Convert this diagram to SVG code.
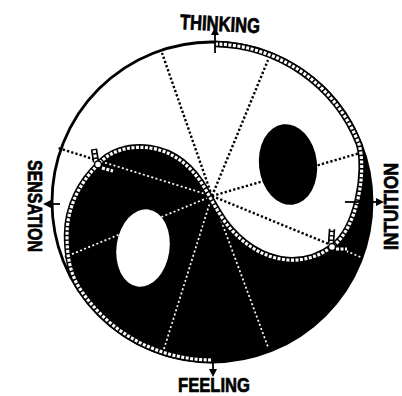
<svg xmlns="http://www.w3.org/2000/svg" width="402" height="396" viewBox="0 0 402 396">
<style>
.lbl{font-family:"Liberation Sans",Arial,sans-serif;font-weight:bold;font-size:21px;fill:#000;stroke:#000;stroke-width:0.7}
.dotB{stroke:#000;stroke-width:2.4;stroke-dasharray:2.3 2.1;fill:none}
.dotW{stroke:#fff;stroke-width:1.7;stroke-dasharray:2 2.4;fill:none}
.bandO{fill:none;stroke:#000;stroke-width:6.5}
.bandI{fill:none;stroke:#fff;stroke-width:3.2;stroke-dasharray:3 1.5}
.arr{stroke:#000;stroke-width:1.8;fill:none;marker-end:url(#ah)}
</style>
<defs>
<marker id="ah" markerUnits="userSpaceOnUse" markerWidth="9" markerHeight="9" refX="1" refY="4.5" orient="auto"><path d="M0,0.5 L8,4.5 L0,8.5 Z" fill="#000"/></marker>
<clipPath id="clipBlack"><path d="M333,246 C320,256 305,261 288,260 C262,258 240,242 225,222 C218,212 213,203 207,192 C196,172 178,152 150,148 C128,145 108,152 98,165 C82,180 67,205 67,235 C67,255 69.7,272.9 79.5,288 L77.8,289.1 A160,160 0 0 0 360.9,143.4 L359,144.1 C367,172 357,228 333,246 Z"/></clipPath>
</defs>
<rect width="402" height="396" fill="#fff"/>
<g id="disc">
<circle cx="212" cy="202" r="160" fill="#fff"/>
</g>
<g id="spokes-black">
<path class="dotB" d="M212,196 L162,53 M212,196 L268,60 M212,196 L58,148 M212,196 L360,153 M212,196 L363,258 M212,196 L65,257 M212,196 L163,352 M212,196 L268,347"/>
</g>
<g id="yin">
<path fill="#000" d="M333,246 C320,256 305,261 288,260 C262,258 240,242 225,222 C218,212 213,203 207,192 C196,172 178,152 150,148 C128,145 108,152 98,165 C82,180 67,205 67,235 C67,255 69.7,272.9 79.5,288 L77.8,289.1 A160,160 0 0 0 360.9,143.4 L359,144.1 C367,172 357,228 333,246 Z"/>
</g>
<g id="spokes-white" clip-path="url(#clipBlack)">
<path class="dotW" d="M212,196 L162,53 M212,196 L268,60 M212,196 L58,148 M212,196 L360,153 M212,196 L363,258 M212,196 L65,257 M212,196 L163,352 M212,196 L268,347"/>
</g>
<g id="eye-black">
<ellipse cx="288" cy="164.5" rx="29" ry="40.5" transform="rotate(-7 288 164.5)" fill="#000"/>
</g>
<g id="eye-white">
<ellipse cx="143" cy="248" rx="26.5" ry="39" transform="rotate(8 143 248)" fill="#fff"/>
</g>
<g id="rim">
<circle cx="212" cy="202" r="160" fill="none" stroke="#000" stroke-width="2.8"/>
</g>
<g id="band">
<path class="bandO" d="M215,44 A158,158 0 0 1 359,144.1 C367,172 357,228 333,246 C320,256 305,261 288,260 C262,258 240,242 225,222 C218,212 213,203 207,192 C196,172 178,152 150,148 C128,145 108,152 98,165 C82,180 67,205 67,235 C67,255 69.7,272.9 79.5,288 A158,158 0 0 0 213,360"/>
<path class="bandI" d="M215,44 A158,158 0 0 1 359,144.1 C367,172 357,228 333,246 C320,256 305,261 288,260 C262,258 240,242 225,222 C218,212 213,203 207,192 C196,172 178,152 150,148 C128,145 108,152 98,165 C82,180 67,205 67,235 C67,255 69.7,272.9 79.5,288 A158,158 0 0 0 213,360"/>
<path class="bandO" d="M96,162 L94,149 M102,168 L113,171 M331,244 L332,229 M336,249 L347,249"/>
<path class="bandI" d="M96,162 L94,149 M102,168 L113,171 M331,244 L332,229 M336,249 L347,249"/>
<circle cx="98" cy="164.5" r="3.5" fill="#fff" stroke="#000" stroke-width="1.5"/>
<circle cx="332" cy="247" r="3.5" fill="#fff" stroke="#000" stroke-width="1.5"/>
</g>
<g id="connectors">
<path class="arr" d="M215,53 L215,34"/>
<path class="arr" d="M213,358 L213,370"/>
<path class="arr" d="M60,204 L50,204"/>
<path class="arr" d="M345,202 L377,202"/>
</g>
<g id="thinking"><text class="lbl" x="220" y="31" text-anchor="middle" textLength="80" lengthAdjust="spacingAndGlyphs" transform="rotate(3 220 24)">THINKING</text></g>
<g id="feeling"><text class="lbl" x="214" y="392" text-anchor="middle" textLength="72" lengthAdjust="spacingAndGlyphs">FEELING</text></g>
<g id="sensation"><text class="lbl" x="0" y="0" text-anchor="middle" textLength="92" lengthAdjust="spacingAndGlyphs" transform="translate(28 206) rotate(90)">SENSATION</text></g>
<g id="intuition"><text class="lbl" x="0" y="0" text-anchor="middle" textLength="87" lengthAdjust="spacingAndGlyphs" transform="translate(398 206.5) rotate(-90)">INTUITION</text></g>
</svg>
